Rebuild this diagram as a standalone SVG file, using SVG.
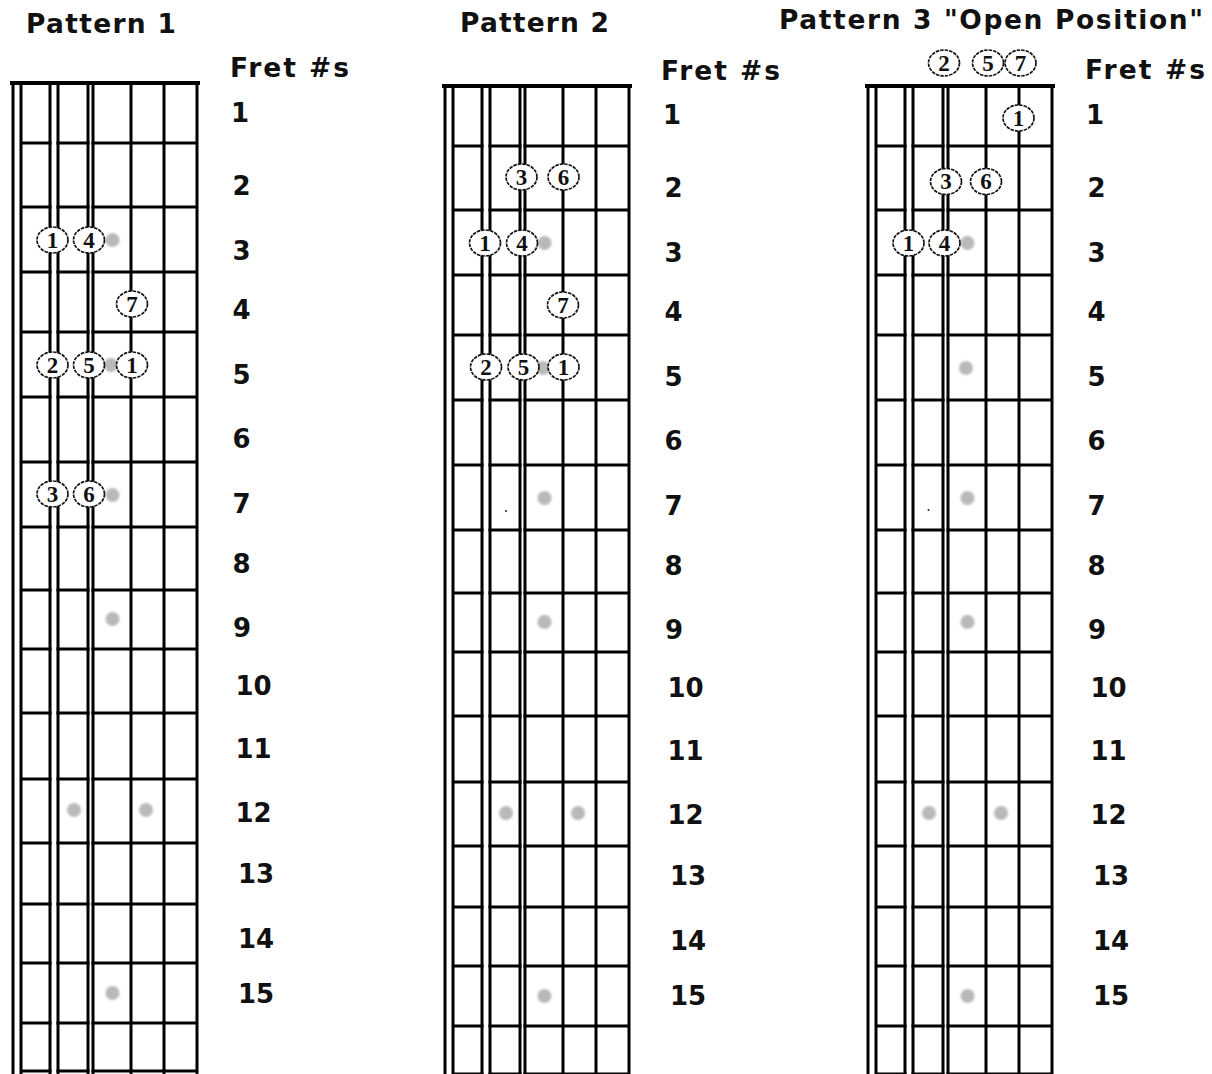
<svg xmlns="http://www.w3.org/2000/svg" xmlns:xlink="http://www.w3.org/1999/xlink" width="1212" height="1074" viewBox="0 0 1212 1074">
<style>
.title{font-family:"DejaVu Sans","Liberation Sans",sans-serif;font-weight:bold;font-size:26.5px;fill:#111}
.lbl{font-family:"DejaVu Sans","Liberation Sans",sans-serif;font-weight:bold;font-size:26px;fill:#111}
.fret line{stroke:#000;stroke-width:3}
.str line{stroke:#000;stroke-width:3}
.nut{stroke:#000;stroke-width:4}
.mark{fill:#b9b9b9;filter:url(#soft)}
.note ellipse{fill:#fff;stroke:#111;stroke-width:1.7;stroke-dasharray:3.5 1}
.note text{font-family:"Liberation Serif","DejaVu Serif",serif;font-weight:bold;font-size:23px;fill:#111;text-anchor:middle}
</style>
<defs>
<filter id="soft" x="-50%" y="-50%" width="200%" height="200%"><feGaussianBlur stdDeviation="1.1"/></filter>
<g id="board">
 <g class="fret">
  <line x1="21" x2="197" y1="143" y2="143"/>
  <line x1="21" x2="197" y1="207" y2="207"/>
  <line x1="21" x2="197" y1="272" y2="272"/>
  <line x1="21" x2="197" y1="332" y2="332"/>
  <line x1="21" x2="197" y1="397" y2="397"/>
  <line x1="21" x2="197" y1="462" y2="462"/>
  <line x1="21" x2="197" y1="527" y2="527"/>
  <line x1="21" x2="197" y1="590" y2="590"/>
  <line x1="21" x2="197" y1="649" y2="649"/>
  <line x1="21" x2="197" y1="713" y2="713"/>
  <line x1="21" x2="197" y1="779" y2="779"/>
  <line x1="21" x2="197" y1="843" y2="843"/>
  <line x1="21" x2="197" y1="904" y2="904"/>
  <line x1="21" x2="197" y1="963" y2="963"/>
  <line x1="21" x2="197" y1="1023" y2="1023"/>
  <line x1="21" x2="197" y1="1071" y2="1071"/>
 </g>
 <rect x="51.5" y="83" width="5" height="1000" fill="#fff"/>
 <rect x="89.5" y="83" width="2" height="1000" fill="#fff"/>
 <g class="str">
  <line x1="13" x2="13" y1="83" y2="1085"/>
  <line x1="21" x2="21" y1="83" y2="1085"/>
  <line x1="50" x2="50" y1="83" y2="1085"/>
  <line x1="58" x2="58" y1="83" y2="1085"/>
  <line x1="88" x2="88" y1="83" y2="1085"/>
  <line x1="93" x2="93" y1="83" y2="1085"/>
  <line x1="131" x2="131" y1="83" y2="1085"/>
  <line x1="164" x2="164" y1="83" y2="1085"/>
  <line x1="197" x2="197" y1="83" y2="1085"/>
 </g>
 <line class="nut" x1="10" x2="200" y1="83" y2="83"/>
 <g>
  <circle class="mark" cx="112.5" cy="240" r="7"/>
  <circle class="mark" cx="111" cy="365" r="7"/>
  <circle class="mark" cx="112.5" cy="495" r="7"/>
  <circle class="mark" cx="112.5" cy="619" r="7"/>
  <circle class="mark" cx="74" cy="810" r="7"/>
  <circle class="mark" cx="146" cy="810" r="7"/>
  <circle class="mark" cx="112.5" cy="993" r="7"/>
 </g>
</g>
</defs>
<rect width="1212" height="1074" fill="#fff"/>

<g id="pattern1">
 <text class="title" x="26" y="33" textLength="150" lengthAdjust="spacing">Pattern 1</text>
 <text class="title" x="230" y="77" textLength="119" lengthAdjust="spacing">Fret #s</text>
 <use xlink:href="#board" href="#board"/>
 <g id="p1-frets">
  <text class="lbl" x="231" y="121.5">1</text>
  <text class="lbl" x="232.5" y="195">2</text>
  <text class="lbl" x="232.5" y="260">3</text>
  <text class="lbl" x="232.5" y="319">4</text>
  <text class="lbl" x="232.5" y="384">5</text>
  <text class="lbl" x="232.5" y="448">6</text>
  <text class="lbl" x="232.5" y="513">7</text>
  <text class="lbl" x="232.5" y="573">8</text>
  <text class="lbl" x="233" y="637">9</text>
  <text class="lbl" x="235.5" y="695">10</text>
  <text class="lbl" x="235.5" y="758">11</text>
  <text class="lbl" x="235.5" y="822">12</text>
  <text class="lbl" x="238" y="883">13</text>
  <text class="lbl" x="238" y="948">14</text>
  <text class="lbl" x="238" y="1003">15</text>
 </g>
 <g id="p1-notes" class="note">
  <g id="p1-n1"><ellipse cx="52.5" cy="240" rx="15.5" ry="13"/><text x="52.5" y="247.5">1</text></g>
  <g id="p1-n2"><ellipse cx="89" cy="240" rx="15.5" ry="13"/><text x="89" y="247.5">4</text></g>
  <g id="p1-n3"><ellipse cx="132" cy="304" rx="15.5" ry="13"/><text x="132" y="311.5">7</text></g>
  <g id="p1-n4"><ellipse cx="52.5" cy="365" rx="15.5" ry="13"/><text x="52.5" y="372.5">2</text></g>
  <g id="p1-n5"><ellipse cx="89" cy="365" rx="15.5" ry="13"/><text x="89" y="372.5">5</text></g>
  <g id="p1-n6"><ellipse cx="132" cy="365" rx="15.5" ry="13"/><text x="132" y="372.5">1</text></g>
  <g id="p1-n7"><ellipse cx="52.5" cy="494" rx="15.5" ry="13"/><text x="52.5" y="501.5">3</text></g>
  <g id="p1-n8"><ellipse cx="89" cy="494" rx="15.5" ry="13"/><text x="89" y="501.5">6</text></g>
 </g>
</g>

<g id="pattern2">
 <text class="title" x="460" y="32" textLength="149" lengthAdjust="spacing">Pattern 2</text>
 <text class="title" x="661" y="80" textLength="119" lengthAdjust="spacing">Fret #s</text>
 <use xlink:href="#board" href="#board" transform="translate(432,3)"/>
 <circle cx="506" cy="511" r="1" fill="#222"/>
 <g id="p2-frets">
  <text class="lbl" x="663" y="123.5">1</text>
  <text class="lbl" x="664.5" y="197">2</text>
  <text class="lbl" x="664.5" y="262">3</text>
  <text class="lbl" x="664.5" y="321">4</text>
  <text class="lbl" x="664.5" y="386">5</text>
  <text class="lbl" x="664.5" y="450">6</text>
  <text class="lbl" x="664.5" y="515">7</text>
  <text class="lbl" x="664.5" y="575">8</text>
  <text class="lbl" x="665" y="639">9</text>
  <text class="lbl" x="667.5" y="697">10</text>
  <text class="lbl" x="667.5" y="760">11</text>
  <text class="lbl" x="667.5" y="824">12</text>
  <text class="lbl" x="670" y="885">13</text>
  <text class="lbl" x="670" y="950">14</text>
  <text class="lbl" x="670" y="1005">15</text>
 </g>
 <g id="p2-notes" class="note">
  <g id="p2-n1"><ellipse cx="521.5" cy="177" rx="15.5" ry="13"/><text x="521.5" y="184.5">3</text></g>
  <g id="p2-n2"><ellipse cx="563.5" cy="177" rx="15.5" ry="13"/><text x="563.5" y="184.5">6</text></g>
  <g id="p2-n3"><ellipse cx="485" cy="243" rx="15.5" ry="13"/><text x="485" y="250.5">1</text></g>
  <g id="p2-n4"><ellipse cx="522" cy="243" rx="15.5" ry="13"/><text x="522" y="250.5">4</text></g>
  <g id="p2-n5"><ellipse cx="563" cy="305" rx="15.5" ry="13"/><text x="563" y="312.5">7</text></g>
  <g id="p2-n6"><ellipse cx="486" cy="367" rx="15.5" ry="13"/><text x="486" y="374.5">2</text></g>
  <g id="p2-n7"><ellipse cx="523.5" cy="367" rx="15.5" ry="13"/><text x="523.5" y="374.5">5</text></g>
  <g id="p2-n8"><ellipse cx="563.5" cy="367" rx="15.5" ry="13"/><text x="563.5" y="374.5">1</text></g>
 </g>
</g>

<g id="pattern3">
 <text class="title" x="779" y="28.5" textLength="424" lengthAdjust="spacing">Pattern 3 "Open Position"</text>
 <text class="title" x="1085" y="79" textLength="120" lengthAdjust="spacing">Fret #s</text>
 <use xlink:href="#board" href="#board" transform="translate(855,3)"/>
 <circle cx="928.5" cy="510" r="1" fill="#222"/>
 <g id="p3-frets">
  <text class="lbl" x="1086" y="123.5">1</text>
  <text class="lbl" x="1087.5" y="197">2</text>
  <text class="lbl" x="1087.5" y="262">3</text>
  <text class="lbl" x="1087.5" y="321">4</text>
  <text class="lbl" x="1087.5" y="386">5</text>
  <text class="lbl" x="1087.5" y="450">6</text>
  <text class="lbl" x="1087.5" y="515">7</text>
  <text class="lbl" x="1087.5" y="575">8</text>
  <text class="lbl" x="1088" y="639">9</text>
  <text class="lbl" x="1090.5" y="697">10</text>
  <text class="lbl" x="1090.5" y="760">11</text>
  <text class="lbl" x="1090.5" y="824">12</text>
  <text class="lbl" x="1093" y="885">13</text>
  <text class="lbl" x="1093" y="950">14</text>
  <text class="lbl" x="1093" y="1005">15</text>
 </g>
 <g id="p3-notes" class="note">
  <g id="p3-n1"><ellipse cx="944" cy="63" rx="15.5" ry="13"/><text x="944" y="70.5">2</text></g>
  <g id="p3-n2"><ellipse cx="988" cy="63" rx="15.5" ry="13"/><text x="988" y="70.5">5</text></g>
  <g id="p3-n3"><ellipse cx="1020.5" cy="63" rx="15.5" ry="13"/><text x="1020.5" y="70.5">7</text></g>
  <g id="p3-n4"><ellipse cx="1018.5" cy="118" rx="15.5" ry="13"/><text x="1018.5" y="125.5">1</text></g>
  <g id="p3-n5"><ellipse cx="946" cy="181.5" rx="15.5" ry="13"/><text x="946" y="189">3</text></g>
  <g id="p3-n6"><ellipse cx="986" cy="181.5" rx="15.5" ry="13"/><text x="986" y="189">6</text></g>
  <g id="p3-n7"><ellipse cx="908.5" cy="243" rx="15.5" ry="13"/><text x="908.5" y="250.5">1</text></g>
  <g id="p3-n8"><ellipse cx="944.5" cy="243" rx="15.5" ry="13"/><text x="944.5" y="250.5">4</text></g>
 </g>
</g>
</svg>
